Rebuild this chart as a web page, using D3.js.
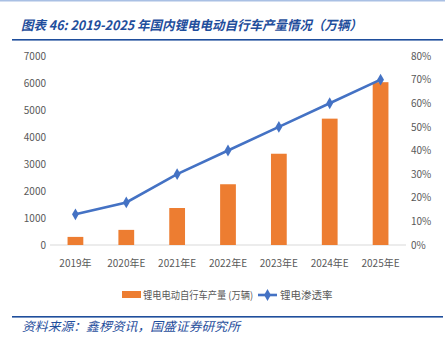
<!DOCTYPE html>
<html><head><meta charset="utf-8">
<script src="https://cdn.jsdelivr.net/npm/d3@7"></script>
<style>
html,body{margin:0;padding:0;background:#fff;}
svg{display:block;}
</style></head>
<body>
<svg id="chart" width="445" height="342"></svg>
<script>
const categories = ["2019年","2020年E","2021年E","2022年E","2023年E","2024年E","2025年E"];
const production = [300, 560, 1370, 2250, 3380, 4680, 6030];
const penetration = [0.13, 0.18, 0.30, 0.40, 0.50, 0.60, 0.70];
const leftTicks = [0,1000,2000,3000,4000,5000,6000,7000];
const rightTicks = [0,0.1,0.2,0.3,0.4,0.5,0.6,0.7,0.8];
const titleText = "图表 46:  2019-2025 年国内锂电电动自行车产量情况（万辆）";
const sourceText = "资料来源：鑫椤资讯，国盛证券研究所";
const legendBar = "锂电电动自行车产量 (万辆)";
const legendLine = "锂电渗透率";

const svg = d3.select("#chart");
const font = "'Noto Sans CJK SC', 'Noto Sans', sans-serif";
const blueDark = "#1F4E9C";
const orange = "#ED7D31";
const lineBlue = "#4472C4";
const gray = "#595959";

// header
svg.append("rect").attr("x",0).attr("y",0).attr("width",445).attr("height",1.5).attr("fill","#A9C0E4");
svg.append("text").attr("x",21).attr("y",30).attr("font-family",font).attr("font-size",13)
  .attr("font-style","italic").attr("font-weight","bold").attr("fill",blueDark)
  .attr("textLength",341).attr("lengthAdjust","spacingAndGlyphs").text(titleText);
svg.append("rect").attr("x",12).attr("y",39).attr("width",431).attr("height",1.6).attr("fill",blueDark);

const x = d3.scaleBand().domain(categories).range([50,406]).paddingInner(0.69).paddingOuter(0.345);
const yL = d3.scaleLinear().domain([0,7000]).range([245,56]);
const yR = d3.scaleLinear().domain([0,0.8]).range([245,56]);

// baseline
svg.append("line").attr("x1",50).attr("x2",406).attr("y1",yL(0)).attr("y2",yL(0))
  .attr("stroke","#D9D9D9").attr("stroke-width",1);

// left axis
const axL = svg.append("g").attr("transform","translate(46,0)")
  .call(d3.axisLeft(yL).tickValues(leftTicks).tickSize(0).tickPadding(0).tickFormat(d3.format("d")));
axL.select(".domain").remove();
axL.selectAll("text").attr("font-family",font).attr("font-size",10).attr("fill",gray);

// right axis
const axR = svg.append("g").attr("transform","translate(411,0)")
  .call(d3.axisRight(yR).tickValues(rightTicks).tickSize(0).tickPadding(0).tickFormat(d3.format(".0%")));
axR.select(".domain").remove();
axR.selectAll("text").attr("font-family",font).attr("font-size",10).attr("fill",gray);

// x axis
const axX = svg.append("g").attr("transform",`translate(0,${yL(0)})`)
  .call(d3.axisBottom(x).tickSize(0).tickPadding(15));
axX.select(".domain").remove();
axX.selectAll("text").attr("font-family",font).attr("font-size",10).attr("fill",gray);

// bars
svg.append("g").selectAll("rect").data(production).join("rect")
  .attr("x",(d,i)=>x(categories[i])).attr("width",x.bandwidth())
  .attr("y",d=>yL(d)).attr("height",d=>yL(0)-yL(d)).attr("fill",orange);

// line
const cx = i => x(categories[i]) + x.bandwidth()/2;
svg.append("path").datum(penetration)
  .attr("d", d3.line().x((d,i)=>cx(i)).y(d=>yR(d)))
  .attr("fill","none").attr("stroke",lineBlue).attr("stroke-width",2.6);
const diamond = d3.symbol().type(d3.symbolDiamond).size(40);
svg.append("g").selectAll("path").data(penetration).join("path")
  .attr("transform",(d,i)=>`translate(${cx(i)},${yR(d)})`).attr("d",diamond()).attr("fill",lineBlue);

// legend
const ly = 295;
svg.append("rect").attr("x",122).attr("y",ly-4).attr("width",19).attr("height",7).attr("fill",orange);
svg.append("text").attr("x",143).attr("y",ly+3.5).attr("font-family",font).attr("font-size",10)
  .attr("fill",gray).attr("textLength",110).attr("lengthAdjust","spacingAndGlyphs").text(legendBar);
svg.append("line").attr("x1",258).attr("x2",277).attr("y1",ly).attr("y2",ly)
  .attr("stroke",lineBlue).attr("stroke-width",2.6);
svg.append("path").attr("transform",`translate(267.5,${ly})`).attr("d",diamond()).attr("fill",lineBlue);
svg.append("text").attr("x",280).attr("y",ly+3.5).attr("font-family",font).attr("font-size",10.5)
  .attr("fill",gray).text(legendLine);

// footer
svg.append("rect").attr("x",12).attr("y",316).attr("width",431).attr("height",1.6).attr("fill",blueDark);
svg.append("text").attr("x",22).attr("y",331).attr("font-family",font).attr("font-size",12.5)
  .attr("font-style","italic").attr("fill",blueDark)
  .attr("textLength",218).attr("lengthAdjust","spacingAndGlyphs").text(sourceText);
</script>
</body></html>
